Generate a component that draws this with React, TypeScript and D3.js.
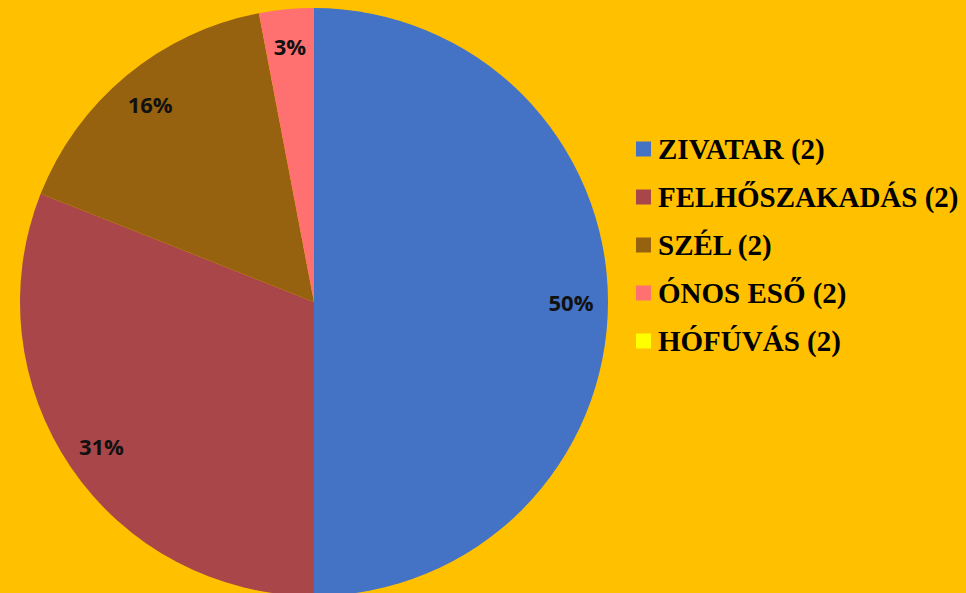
import { useMemo } from "react";
import { pie, arc } from "d3";

const categories = ["ZIVATAR (2)", "FELHŐSZAKADÁS (2)", "SZÉL (2)", "ÓNOS ESŐ (2)", "HÓFÚVÁS (2)"];
const shares = [50, 31, 16, 3, 0];
const colors = ["#4472C4", "#A9464A", "#97620F", "#FF7070", "#FFFF00"];

const W = 966;
const H = 593;

export default function App() {
    const cx = 314;
    const cy = 302;
    const radius = 294;

    const slices = useMemo(() => {
        return pie<number>().sort(null).value(d => d)(shares);
    }, []);

    const sliceArc = arc<any>().innerRadius(0).outerRadius(radius);
    const labelArc = arc<any>().innerRadius(257).outerRadius(257);

    return (
        <svg
            width={W}
            height={H}
            style={{ position: "fixed", left: 0, top: 0, display: "block" }}
        >
            <rect width={W} height={H} fill="#FFC000" />
            <g transform={`translate(${cx}, ${cy})`}>
                {slices.map((s, i) => (
                    <path key={categories[i]} d={sliceArc(s) || ""} fill={colors[i]} />
                ))}
                {slices.map((s, i) => {
                    if (s.value <= 0) {
                        return null;
                    }
                    const [x, y] = labelArc.centroid(s);
                    return (
                        <text
                            key={`lbl-${i}`}
                            x={x}
                            y={y}
                            textAnchor="middle"
                            dominantBaseline="central"
                            fontFamily="Open Sans, sans-serif"
                            fontWeight={700}
                            fontSize={22}
                            fill="#111"
                        >
                            {`${s.value}%`}
                        </text>
                    );
                })}
            </g>
            <g transform="translate(636, 149)">
                {categories.map((c, i) => (
                    <g key={c} transform={`translate(0, ${i * 48})`}>
                        <rect x={0} y={-7.5} width={15} height={15} fill={colors[i]} />
                        <text
                            x={22}
                            y={10}
                            fontFamily="Times New Roman, Liberation Serif, serif"
                            fontWeight={700}
                            fontSize={29}
                            fill="#000"
                        >
                            {c}
                        </text>
                    </g>
                ))}
            </g>
        </svg>
    );
}
